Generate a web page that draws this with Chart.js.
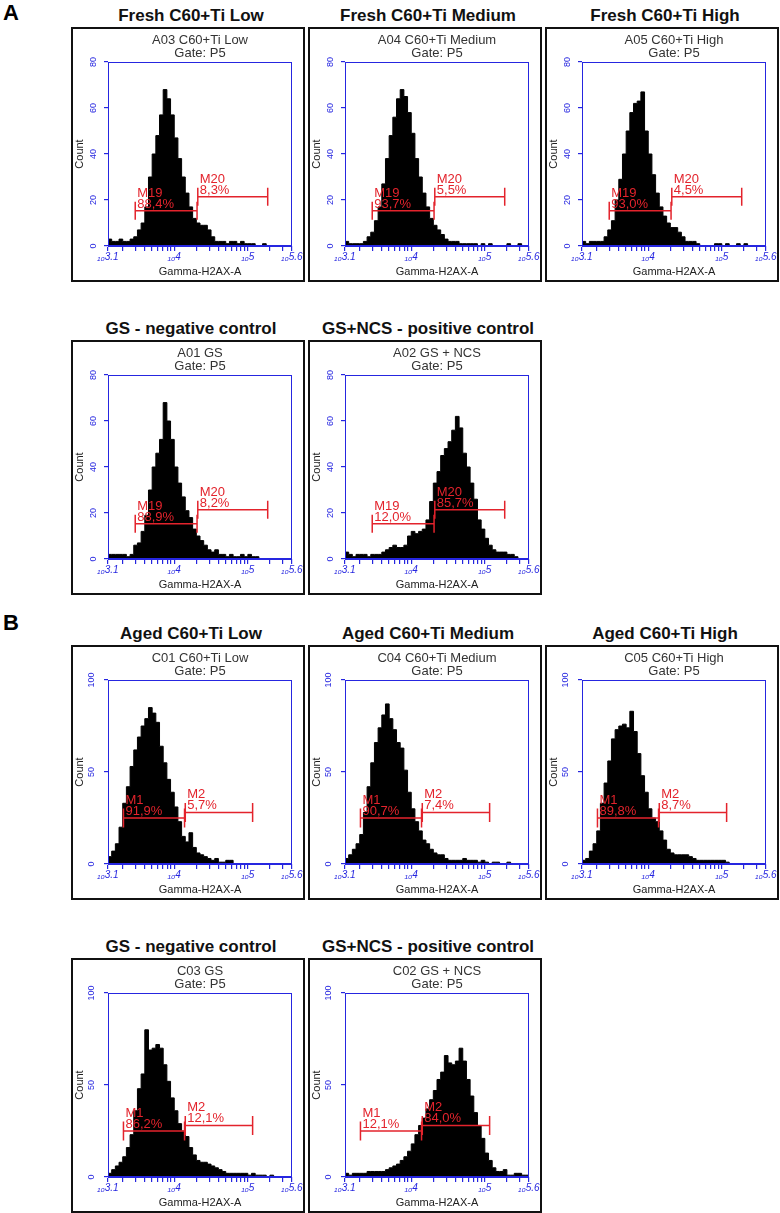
<!DOCTYPE html>
<html lang="en">
<head>
<meta charset="UTF-8">
<title>Gamma-H2AX histograms</title>
<script src="https://cdn.jsdelivr.net/npm/chart.js"></script>
<style>
  body { margin: 0; background: #fff; font-family: 'Liberation Sans', Arial, sans-serif; }
  #page { position: relative; width: 780px; height: 1213px; overflow: hidden; background: #fff; }
  .letter { position: absolute; font-weight: bold; font-size: 22px; line-height: 22px; }
  .title { position: absolute; width: 260px; text-align: center; font-weight: bold; font-size: 17px; line-height: 20px; white-space: nowrap; color: #111; }
  .frame { position: absolute; width: 234px; height: 255px; box-sizing: border-box; border: 2px solid #111; }
  .frame canvas { display: block; }
</style>
</head>
<body>
<div id="page">
  <div class="letter" style="left:3px;top:2px">A</div>
  <div class="letter" style="left:3px;top:612px">B</div>
</div>
<script>
// histogram bins: log10 of Gamma-H2AX-A, 0.05 decade wide, from 10^3.1
const binStart = 3.1;
const binWidth = 0.05;

// counts per bin
const freshLow    = [2,3,2,2,3,2,2,3,4,7, 10,17,30,40,48,57,68,64,57,47, 38,30,23,17,12,10,9,9,7,4, 2,2,2,1,2,2,1,2,1,1, 1,0,0,1,0,0,0,0,0,0];
const freshMedium = [1,2,1,1,1,1,2,4,6,11, 17,27,38,48,56,64,68,65,58,49, 38,30,23,17,12,9,7,5,3,2, 2,2,1,1,1,1,1,0,1,0, 1,0,0,0,0,1,0,0,1,0];
const freshHigh   = [2,2,1,2,2,2,2,4,7,11, 20,29,40,50,58,62,63,67,50,40, 31,23,17,13,10,8,8,6,4,2, 2,2,1,0,0,0,0,1,1,0, 1,0,0,1,0,1,0,0,0,0];
const freshNeg    = [2,2,2,2,2,2,1,2,6,7, 12,19,30,40,46,52,68,60,52,40, 33,27,21,18,13,10,8,6,4,3, 4,2,2,1,2,1,1,2,1,2, 1,1,0,0,0,0,0,0,0,0];
const freshPos    = [1,3,2,1,2,2,2,1,2,2, 2,3,4,5,6,5,5,6,10,12, 11,12,13,17,25,33,38,45,48,51, 56,62,57,46,40,33,26,17,13,9, 6,4,3,3,3,2,2,1,0,0];
const agedLow     = [2,4,7,11,20,33,42,53,62,69, 75,79,85,82,77,64,55,46,39,31, 23,15,12,17,9,6,5,4,3,2, 3,1,1,2,2,0,0,0,0,0, 0,0,0,0,0,0,0,0,0,0];
const agedMedium  = [2,3,5,8,11,16,28,42,55,66, 74,81,87,79,73,66,63,51,39,30, 23,18,13,11,8,6,5,5,3,2, 2,2,2,3,2,2,2,1,2,1, 0,1,1,0,0,1,0,0,0,0];
const agedHigh    = [2,2,3,7,11,18,33,44,56,68, 73,75,76,74,83,72,60,48,39,30, 25,23,18,13,8,6,5,5,5,5, 4,3,2,2,2,2,2,2,2,2, 1,0,0,0,0,0,0,0,0,0];
const agedNeg     = [2,2,4,6,8,11,16,23,36,48, 56,80,69,70,72,70,61,52,43,36, 29,25,22,16,12,9,8,8,7,6, 5,4,3,2,2,2,2,2,2,1, 2,1,1,1,0,1,0,0,0,0];
const agedPos     = [2,2,1,2,2,2,2,3,3,3, 3,3,4,5,6,7,9,11,14,18, 23,28,32,37,42,47,53,57,66,62, 61,63,70,63,53,44,35,28,21,13, 9,5,3,3,4,1,1,2,2,1];

const panelTitles = ['Fresh C60+Ti Low', 'Fresh C60+Ti Medium', 'Fresh C60+Ti High',
  'GS - negative control', 'GS+NCS - positive control',
  'Aged C60+Ti Low', 'Aged C60+Ti Medium', 'Aged C60+Ti High',
  'GS - negative control', 'GS+NCS - positive control'];
const sampleNames = ['A03 C60+Ti Low', 'A04 C60+Ti Medium', 'A05 C60+Ti High', 'A01 GS', 'A02 GS + NCS',
  'C01 C60+Ti Low', 'C04 C60+Ti Medium', 'C05 C60+Ti High', 'C03 GS', 'C02 GS + NCS'];
const gatePercents = [['88,4%', '8,3%'], ['93,7%', '5,5%'], ['93,0%', '4,5%'], ['88,9%', '8,2%'], ['12,0%', '85,7%'],
  ['91,9%', '5,7%'], ['90,7%', '7,4%'], ['89,8%', '8,7%'], ['86,2%', '12,1%'], ['12,1%', '84,0%']];

// marker gates (log10 positions) and their heights in counts
const markerNamesA = ['M19', 'M20'];
const markerNamesB = ['M1', 'M2'];
const gateEdgesA = [[3.47, 4.31], [4.32, 5.27]];
const gateEdgesB = [[3.31, 4.14], [4.15, 5.065]];
const gateLevelsA = [15.3, 21.4];
const gateLevelsB = [25, 28];

const yTicksA = [0, 20, 40, 60, 80];
const yTicksB = [0, 50, 100];
const xTickCounts = [2e3, 3e3, 4e3, 5e3, 6e3, 7e3, 8e3, 9e3, 1e4, 2e4, 3e4, 4e4, 5e4, 6e4, 7e4, 8e4, 9e4, 1e5, 2e5, 3e5];
const xLabelValues = [3.1, 4, 5, 5.6];
const xLabelTexts = ['3.1', '4', '5', '5.6'];

const BLUE = '#2626e0';
const RED = '#e3232c';
const FONT = "'Liberation Sans', Arial, sans-serif";

const xTickValues = [3.1].concat(xTickCounts.map(c => Math.log10(c)), [5.6]);

const panelDecor = {
  id: 'panelDecor',
  afterDatasetsDraw(chart, args, opts) {
    const { ctx, chartArea: a, scales: { x, y } } = chart;
    ctx.save();
    ctx.strokeStyle = BLUE;
    ctx.lineWidth = 1;
    ctx.strokeRect(Math.round(a.left) + 0.5, Math.round(a.top) + 0.5, Math.round(a.width) - 1, Math.round(a.height) - 1);

    ctx.fillStyle = RED;
    ctx.font = '13px ' + FONT;
    ctx.textAlign = 'left';
    ctx.textBaseline = 'alphabetic';
    for (let g = 0; g < 2; g++) {
      const px = x.getPixelForValue(opts.edges[g][0]) + 2;
      const py = y.getPixelForValue(opts.levels[g]);
      ctx.fillText(opts.names[g], px, py - 14);
      ctx.fillText(opts.pcts[g], px, py - 3);
    }

    ctx.fillStyle = '#333';
    ctx.textAlign = 'center';
    const cx = (a.left + a.right) / 2;
    ctx.fillText(opts.sample, cx, 15);
    ctx.fillText('Gate: P5', cx, 28);
    ctx.restore();
  }
};

function gatePath(edges, level, cap) {
  const [a, b] = edges;
  return [{x: a, y: level - cap}, {x: a, y: level + cap}, {x: a, y: level},
          {x: b, y: level}, {x: b, y: level + cap}, {x: b, y: level - cap}];
}

function makePanel(k, counts, left, top, isB) {
  const page = document.getElementById('page');

  const title = document.createElement('div');
  title.className = 'title';
  title.style.left = (left + 120 - 130) + 'px';
  title.style.top = (top - 21) + 'px';
  title.textContent = panelTitles[k];
  page.appendChild(title);

  const frame = document.createElement('div');
  frame.className = 'frame';
  frame.style.left = left + 'px';
  frame.style.top = top + 'px';
  const canvas = document.createElement('canvas');
  canvas.width = 230;
  canvas.height = 251;
  frame.appendChild(canvas);
  page.appendChild(frame);

  const hist = counts.map((c, i) => ({x: binStart + i * binWidth, y: c}));
  hist.push({x: 5.6, y: counts[counts.length - 1]});

  const edges = isB ? gateEdgesB : gateEdgesA;
  const levels = isB ? gateLevelsB : gateLevelsA;
  const cap = isB ? 5.2 : 3.9;
  const yTicks = isB ? yTicksB : yTicksA;

  const gateStyle = { borderColor: RED, borderWidth: 1.5, pointRadius: 0, fill: false, tension: 0, order: 1 };

  new Chart(canvas, {
    type: 'line',
    data: {
      datasets: [
        { data: hist, stepped: 'after', fill: 'origin', backgroundColor: '#000', borderColor: '#000',
          borderWidth: 1, pointRadius: 0, order: 2 },
        Object.assign({ data: gatePath(edges[0], levels[0], cap) }, gateStyle),
        Object.assign({ data: gatePath(edges[1], levels[1], cap) }, gateStyle)
      ]
    },
    options: {
      responsive: false,
      animation: false,
      devicePixelRatio: 1,
      layout: { padding: { top: 33, right: 11, left: 0, bottom: 0 } },
      plugins: {
        legend: { display: false },
        tooltip: { enabled: false },
        panelDecor: {
          sample: sampleNames[k],
          names: isB ? markerNamesB : markerNamesA,
          pcts: gatePercents[k],
          edges: edges,
          levels: levels
        }
      },
      scales: {
        x: {
          type: 'linear', min: 3.1, max: 5.6,
          afterBuildTicks: s => { s.ticks = xTickValues.map(v => ({ value: v })); },
          afterFit: s => { s.height = 34; s.paddingLeft = 0; s.paddingRight = 0; },
          grid: { drawOnChartArea: false, drawTicks: true, tickLength: 5, color: BLUE, lineWidth: 1.2 },
          border: { color: BLUE, width: 1 },
          ticks: {
            autoSkip: false, maxRotation: 0, minRotation: 0, padding: 0, color: BLUE,
            font: { size: 10, style: 'italic', family: FONT },
            callback: v => {
              const j = xLabelValues.findIndex(t => Math.abs(t - v) < 1e-6);
              return j < 0 ? '' : '\u2081\u2080' + xLabelTexts[j];
            }
          },
          title: { display: true, text: 'Gamma-H2AX-A', color: '#222', font: { size: 11, family: FONT },
                   padding: { top: 0, bottom: 1 } }
        },
        y: {
          min: 0, max: yTicks[yTicks.length - 1],
          afterBuildTicks: s => { s.ticks = yTicks.map(v => ({ value: v })); },
          afterFit: s => { s.width = 35; s.paddingTop = 0; s.paddingBottom = 0; },
          grid: { drawOnChartArea: false, drawTicks: true, tickLength: 4, color: BLUE, lineWidth: 1.2 },
          border: { color: BLUE, width: 1 },
          ticks: { minRotation: 90, maxRotation: 90, crossAlign: 'center', padding: 5, color: BLUE,
                   font: { size: 9, family: FONT } },
          title: { display: true, text: 'Count', color: '#222', font: { size: 11, family: FONT },
                   padding: { top: 0, bottom: 0 } }
        }
      }
    },
    plugins: [panelDecor]
  });
}

const colX = [71, 308, 545];
const rowY = [27, 340, 645, 958];

makePanel(0, freshLow,    colX[0], rowY[0], false);
makePanel(1, freshMedium, colX[1], rowY[0], false);
makePanel(2, freshHigh,   colX[2], rowY[0], false);
makePanel(3, freshNeg,    colX[0], rowY[1], false);
makePanel(4, freshPos,    colX[1], rowY[1], false);
makePanel(5, agedLow,     colX[0], rowY[2], true);
makePanel(6, agedMedium,  colX[1], rowY[2], true);
makePanel(7, agedHigh,    colX[2], rowY[2], true);
makePanel(8, agedNeg,     colX[0], rowY[3], true);
makePanel(9, agedPos,     colX[1], rowY[3], true);
</script>
</body>
</html>
